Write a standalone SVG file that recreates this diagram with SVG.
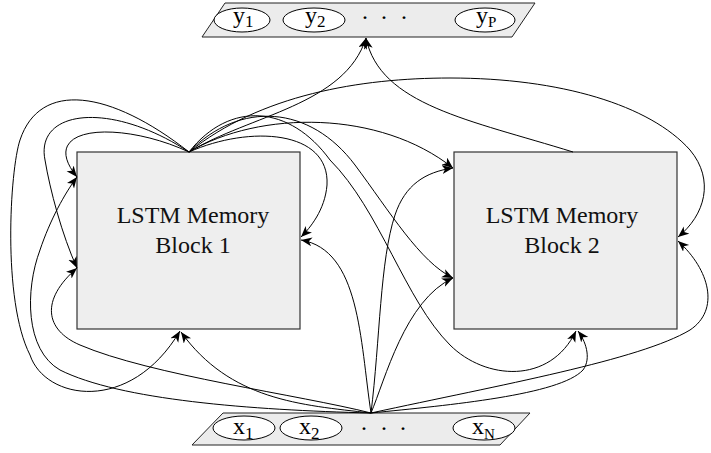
<svg xmlns="http://www.w3.org/2000/svg" width="711" height="453" viewBox="0 0 711 453">
<style>
.bg{fill:#ffffff}
.para{fill:#ececec;stroke:#222;stroke-width:1}
.ell{fill:#ffffff;stroke:#000;stroke-width:1}
.block{fill:#eeeeee;stroke:#333;stroke-width:1.2}
text{font-family:'Liberation Serif','Times New Roman','Nimbus Roman','DejaVu Serif',serif}
.lbl{font-size:24px;fill:#000}
.btxt{font-size:24px;fill:#111;text-anchor:middle}
.dots{font-size:24px;fill:#000}
.edge{fill:none;stroke:#000;stroke-width:1;marker-end:url(#ah)}
</style>
<defs>
<marker id="ah" markerUnits="userSpaceOnUse" markerWidth="12" markerHeight="10" refX="11" refY="4.5" orient="auto">
<path d="M0,0 L11,4.5 L0,9 L3,4.5 z" fill="#000"/>
</marker>
</defs>
<rect class="bg" x="0" y="0" width="711" height="453"/>

<g id="outputs">
<polygon class="para" points="225,3 535,3 512,37 202,37"/>
<ellipse class="ell" cx="242" cy="20" rx="28" ry="12"/>
<ellipse class="ell" cx="314" cy="20" rx="31" ry="12"/>
<ellipse class="ell" cx="485" cy="20" rx="30" ry="12"/>
<text class="lbl" x="233" y="23" font-family="Liberation Serif, serif">y<tspan font-size="17" dy="4">1</tspan></text>
<text class="lbl" x="305" y="23" font-family="Liberation Serif, serif">y<tspan font-size="17" dy="4">2</tspan></text>
<text class="lbl" x="476" y="23" font-family="Liberation Serif, serif">y<tspan font-size="15" dy="4">P</tspan></text>
<text class="dots" x="361 380 400" y="25" font-family="Liberation Serif, serif">···</text>
</g>

<g id="inputs">
<polygon class="para" points="223,413 530,413 500,445 192,445"/>
<ellipse class="ell" cx="244" cy="428" rx="31" ry="12"/>
<ellipse class="ell" cx="311" cy="428" rx="31" ry="12"/>
<ellipse class="ell" cx="484" cy="428" rx="31" ry="12"/>
<text class="lbl" x="233" y="434" font-family="Liberation Serif, serif">x<tspan font-size="17" dy="5">1</tspan></text>
<text class="lbl" x="299" y="434" font-family="Liberation Serif, serif">x<tspan font-size="17" dy="5">2</tspan></text>
<text class="lbl" x="472" y="434" font-family="Liberation Serif, serif">x<tspan font-size="15" dy="5">N</tspan></text>
<text class="dots" x="360 380 399" y="436" font-family="Liberation Serif, serif">···</text>
</g>

<g id="block1">
<rect class="block" x="77" y="152" width="223" height="177"/>
<text class="btxt" x="193" y="223" font-family="Liberation Serif, serif">LSTM Memory</text>
<text class="btxt" x="193" y="253" font-family="Liberation Serif, serif">Block 1</text>
</g>

<g id="block2">
<rect class="block" x="454" y="152" width="223" height="177"/>
<text class="btxt" x="562" y="223" font-family="Liberation Serif, serif">LSTM Memory</text>
<text class="btxt" x="562" y="253" font-family="Liberation Serif, serif">Block 2</text>
</g>

<g id="connectors">
<path class="edge" d="M189,152 C250,115 345,105 366,38"/>
<path class="edge" d="M189,152 C120,120 35,125 77,177"/>
<path class="edge" d="M189,152 C110,100 35,110 45,160 C50,190 62,235 77,268"/>
<path class="edge" d="M189,152 C110,90 40,80 20,140 C10,170 2,300 30,355 C45,400 130,415 180,331"/>
<path class="edge" d="M189,152 C250,125 330,130 327,185 C325,210 310,228 301,237"/>
<path class="edge" d="M189,152 C260,110 380,110 453,168"/>
<path class="edge" d="M189,152 C240,100 310,105 355,165 C390,212 420,262 453,278"/>
<path class="edge" d="M189,152 C230,100 290,105 330,160 C380,210 405,300 450,345 C485,380 550,385 576,331"/>
<path class="edge" d="M189,152 C260,95 360,78 450,78 C560,78 650,105 690,150 C715,180 705,215 678,237"/>
<path class="edge" d="M573,152 C470,120 380,105 366,38"/>
<path class="edge" d="M371,413 C300,405 230,400 181,332"/>
<path class="edge" d="M371,413 C250,410 120,400 60,370 C25,350 25,290 40,250 C50,220 65,193 77,177"/>
<path class="edge" d="M371,413 C300,395 150,375 80,345 C45,330 40,300 77,268"/>
<path class="edge" d="M371,413 C360,340 360,250 301,240"/>
<path class="edge" d="M371,413 C380,340 380,260 395,215 C405,185 425,172 453,168"/>
<path class="edge" d="M371,413 C385,380 405,300 453,278"/>
<path class="edge" d="M371,413 C450,405 560,395 583,370 C592,358 585,340 578,331"/>
<path class="edge" d="M371,413 C500,385 640,360 690,330 C720,310 710,270 678,241"/>
</g>
</svg>
